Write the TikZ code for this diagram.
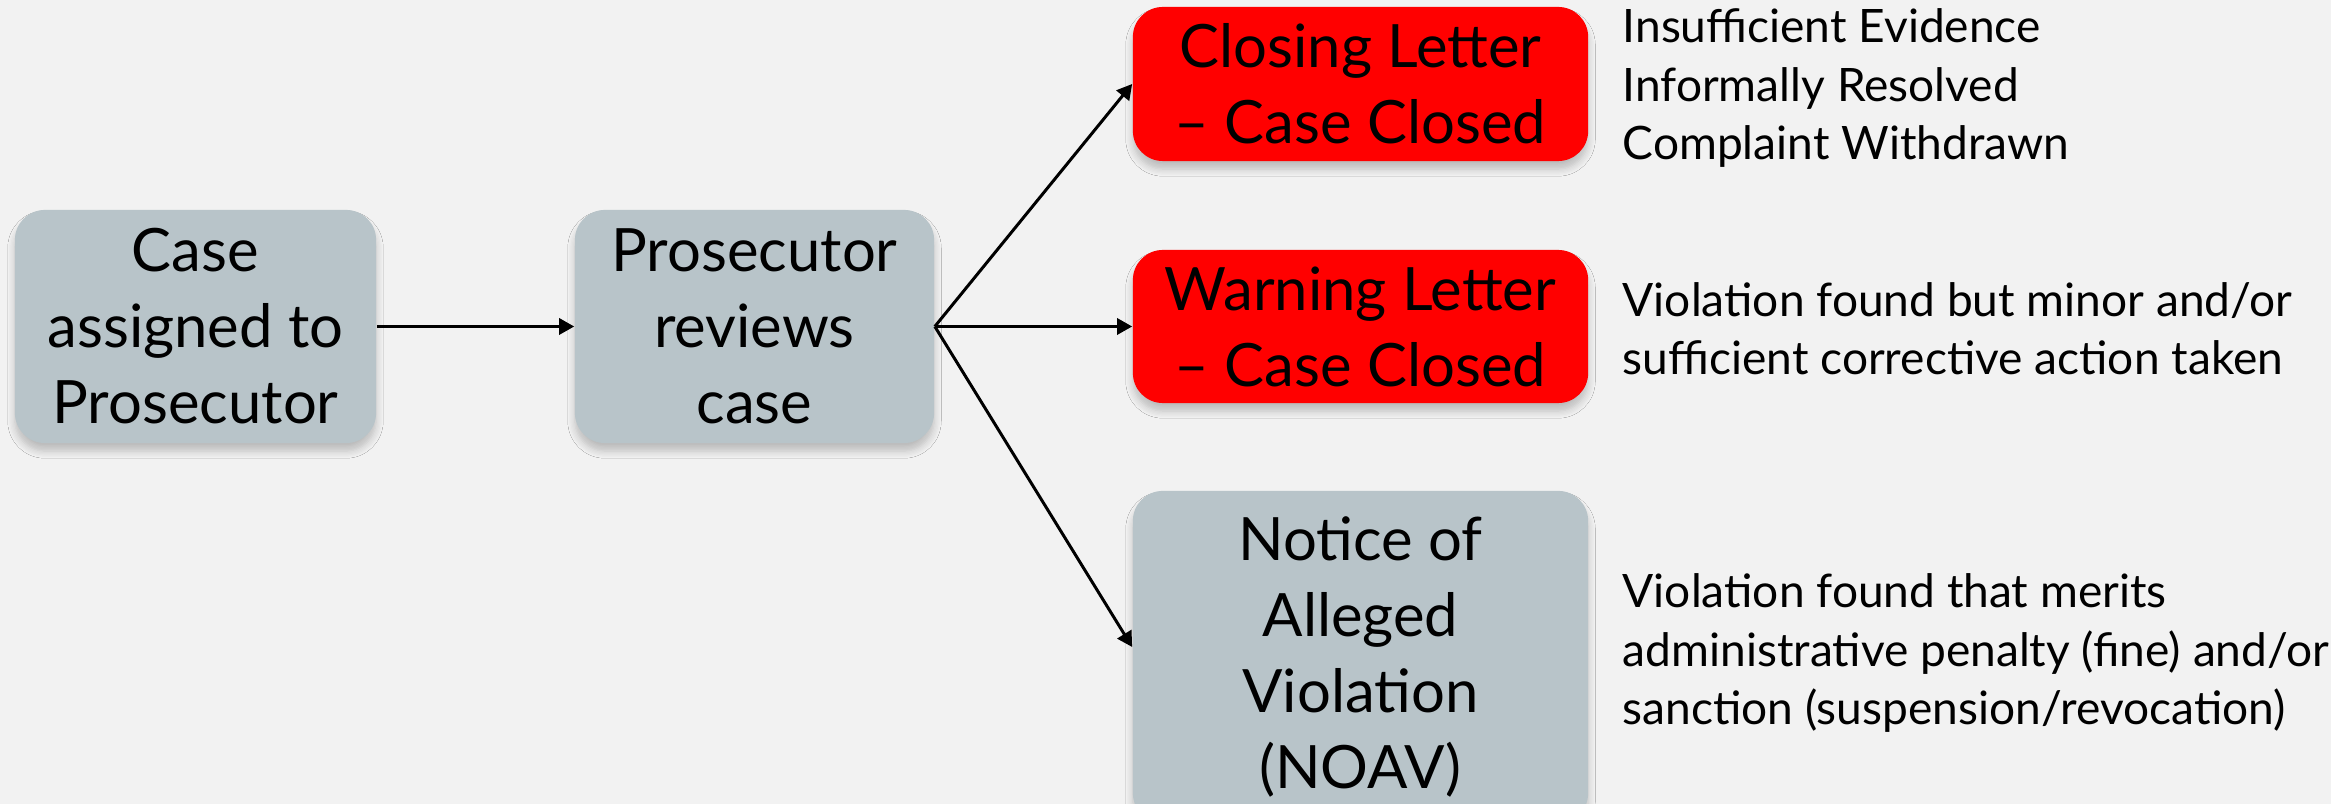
\documentclass[tikz,border=0pt]{standalone}
\usepackage{fontspec}
\setmainfont{Lato}
\usetikzlibrary{arrows.meta,shadows.blur,calc}
\definecolor{bg}{HTML}{F2F2F2}
\definecolor{boxgrey}{HTML}{B8C4C9}
\definecolor{boxred}{HTML}{FF0000}
\tikzset{
  box/.style={rounded corners=0.3cm, inner sep=0pt, align=center,
    font=\fontsize{17pt}{21.6pt}\selectfont,
    blur shadow={shadow xshift=0pt, shadow yshift=-0.08cm, shadow blur steps=6, shadow opacity=22}},
  greybox/.style={box, fill=boxgrey},
  redbox/.style={box, fill=boxred},
  note/.style={anchor=west, align=left, inner sep=0pt, font=\fontsize{13.1pt}{16.6pt}\selectfont},
  conn/.style={draw=black, line width=0.85pt, -{Triangle[length=4.3pt,width=4.6pt]}}
}
\begin{document}
\begin{tikzpicture}[x=0.01cm,y=-0.01cm]
\fill[bg] (0,0) rectangle (2331,804);
\useasboundingbox (0,0) rectangle (2331,804);
\node[greybox, minimum width=3.61cm, minimum height=2.33cm] (b1) at (195.5,326.5) {Case\\assigned to\\Prosecutor};
\node[greybox, minimum width=3.59cm, minimum height=2.33cm] (b2) at (754.5,326.5) {Prosecutor\\reviews\\case};
\node[redbox, minimum width=4.55cm, minimum height=1.54cm] (cl) at (1360.5,84) {Closing Letter\\-- Case Closed};
\node[redbox, minimum width=4.55cm, minimum height=1.53cm] (wl) at (1360.5,326.5) {Warning Letter\\-- Case Closed};
\node[greybox, minimum width=4.55cm, minimum height=3.32cm] (nv) at (1360.5,657) {Notice of\\Alleged\\Violation\\(NOAV)};
\node[note] (t1) at (1622,88) {Insufficient Evidence\\Informally Resolved\\Complaint Withdrawn};
\node[note] (t2) at (1622,329) {Violation found but minor and/or\\sufficient corrective action taken};
\node[note] (t3) at (1622,653) {Violation found that merits\\administrative penalty (fine) and/or\\sanction (suspension/revocation)};
\coordinate (nvin) at ($(nv.west)+(0,-10)$);
\draw[conn] (b1.east) -- (b2.west);
\draw[conn] (b2.east) -- (cl.west);
\draw[conn] (b2.east) -- (wl.west);
\draw[conn] (b2.east) -- (nvin);
\end{tikzpicture}
\end{document}
